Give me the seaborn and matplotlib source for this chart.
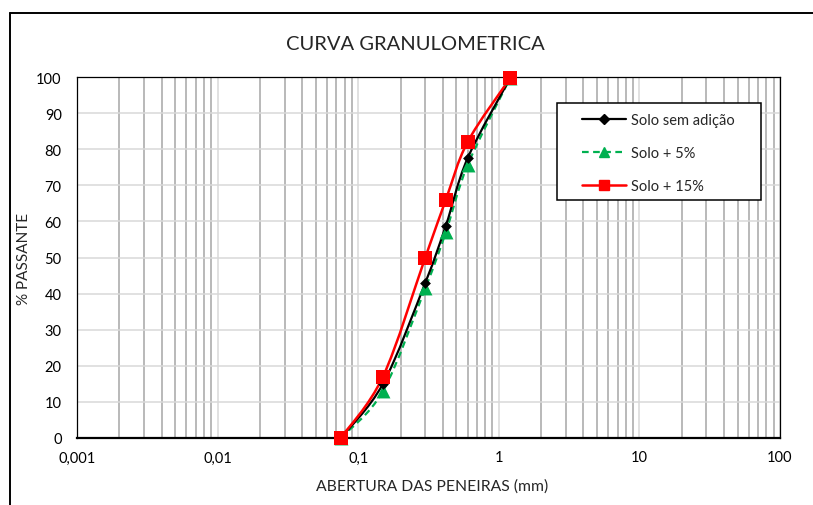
import numpy as np
import pandas as pd
import matplotlib
matplotlib.use("Agg")
import matplotlib.pyplot as plt
import seaborn as sns
from matplotlib.path import Path
from matplotlib.patches import PathPatch, Rectangle
from matplotlib.lines import Line2D
from matplotlib.ticker import FixedLocator, LogLocator, NullFormatter

# ---- data ----
sieve_mm = [0.075, 0.15, 0.30, 0.42, 0.60, 1.2]
solo_sem = [0.0, 15.0, 43.0, 58.8, 77.5, 99.6]
solo_5 = [0.0, 13.0, 41.5, 57.0, 75.6, 99.6]
solo_15 = [0.0, 17.0, 50.0, 66.0, 82.0, 99.6]
series_names = ["Solo sem adição", "Solo + 5%", "Solo + 15%"]
x_ticks = [0.001, 0.01, 0.1, 1, 10, 100]
x_tick_labels = ["0,001", "0,01", "0,1", "1", "10", "100"]
y_ticks = list(range(0, 101, 10))

title = "CURVA GRANULOMETRICA"
xlabel = "ABERTURA DAS PENEIRAS (mm)"
ylabel = "% PASSANTE"

# ---- styles ----
FONT = ["Lato", "DejaVu Sans"]
sns.set_theme(style="white")
plt.rcParams["font.family"] = FONT

colors = {"Solo sem adição": "#000000", "Solo + 5%": "#00B050", "Solo + 15%": "#FF0000"}
markers = {"Solo sem adição": "D", "Solo + 5%": "^", "Solo + 15%": "s"}
msizes = {"Solo sem adição": 5.5, "Solo + 5%": 10, "Solo + 15%": 10}
leg_msizes = {"Solo sem adição": 5.5, "Solo + 5%": 7.5, "Solo + 15%": 7.5}
lstyles = {"Solo sem adição": "-", "Solo + 5%": (0, (3, 2)), "Solo + 15%": "-"}
lwidths = {"Solo sem adição": 1.6, "Solo + 5%": 1.6, "Solo + 15%": 1.8}

df = pd.DataFrame({
    "x": sieve_mm * 3,
    "y": solo_sem + solo_5 + solo_15,
    "serie": [series_names[0]] * 6 + [series_names[1]] * 6 + [series_names[2]] * 6,
})

W, H = 813, 506
fig = plt.figure(figsize=(W / 100, H / 100), dpi=100)
L, R, T, B = 77, 780, 78, 439
ax = fig.add_axes([L / W, 1 - B / H, (R - L) / W, (B - T) / H])

ax.set_xscale("log")
ax.set_xlim(0.001, 100)
ax.set_ylim(0, 100)


def smooth_path(xs, ys):
    # Excel-like smoothed line: cubic Bezier segments (tension 1/6) in log-x space
    lx = np.log10(np.asarray(xs, float))
    yy = np.asarray(ys, float)
    n = len(lx)
    verts = [(xs[0], ys[0])]
    codes = [Path.MOVETO]
    for i in range(n - 1):
        p0 = max(i - 1, 0)
        p3 = min(i + 2, n - 1)
        c1x = lx[i] + (lx[i + 1] - lx[p0]) / 6
        c1y = yy[i] + (yy[i + 1] - yy[p0]) / 6
        c2x = lx[i + 1] - (lx[p3] - lx[i]) / 6
        c2y = yy[i + 1] - (yy[p3] - yy[i]) / 6
        verts += [(10 ** c1x, c1y), (10 ** c2x, c2y), (xs[i + 1], ys[i + 1])]
        codes += [Path.CURVE4] * 3
    return Path(verts, codes)


order = [series_names[1], series_names[0], series_names[2]]
for name in order:
    sub = df[df["serie"] == name]
    pp = PathPatch(smooth_path(list(sub["x"]), list(sub["y"])), fill=False,
                   edgecolor=colors[name], linewidth=lwidths[name],
                   linestyle=lstyles[name], zorder=3, clip_on=False)
    ax.add_patch(pp)

for name in order:
    sub = df[df["serie"] == name]
    sns.scatterplot(data=sub, x="x", y="y", ax=ax, marker=markers[name],
                    color=colors[name], s=msizes[name] ** 2, edgecolor=colors[name],
                    linewidth=0, zorder=4, clip_on=False, legend=False)

# grid
ax.xaxis.set_major_locator(FixedLocator(x_ticks))
ax.set_xticklabels(x_tick_labels)
ax.xaxis.set_minor_locator(LogLocator(base=10, subs=np.arange(2, 10), numticks=20))
ax.xaxis.set_minor_formatter(NullFormatter())
ax.set_yticks(y_ticks)
ax.grid(True, which="major", axis="both", color="#D9D9D9", linewidth=1.1, zorder=0)
ax.grid(True, which="minor", axis="x", color="#A6A6A6", linewidth=1.1, zorder=0)
ax.set_axisbelow(True)
ax.tick_params(axis="both", which="both", length=0, labelsize=10.5, colors="#000000")
ax.tick_params(axis="y", pad=11)
ax.tick_params(axis="x", pad=9)
for s in ["top", "right", "left"]:
    ax.spines[s].set_visible(True)
    ax.spines[s].set_color("#000000")
    ax.spines[s].set_linewidth(0.9)
ax.spines["bottom"].set_color("#000000")
ax.spines["bottom"].set_linewidth(1.6)

ax.set_xlabel(xlabel, fontsize=11.3)
ax.set_ylabel(ylabel, fontsize=11)
ax.set_title(title, fontsize=14.5, pad=0, x=(415 - L) / (R - L),
             y=1 + (T - 44) / (B - T), va="center")
ax.yaxis.label.set_va("center")
ax.xaxis.label.set_va("center")
ax.yaxis.set_label_coords((24 - L) / (R - L), 1 - (259 - T) / (B - T))
ax.xaxis.set_label_coords((432 - L) / (R - L), -(487 - B) / (B - T))

# legend frame + legend
lx0, ly0, lx1, ly1 = 557, 104, 761, 201
ax.add_patch(Rectangle(((lx0 - L) / (R - L), 1 - (ly1 - T) / (B - T)),
                       (lx1 - lx0) / (R - L), (ly1 - ly0) / (B - T),
                       transform=ax.transAxes, facecolor="white", edgecolor="black",
                       linewidth=1.1, zorder=5))
handles = [Line2D([], [], color=colors[n], marker=markers[n],
                  markersize=leg_msizes[n],
                  linestyle=lstyles[n], linewidth=lwidths[n]) for n in series_names]
leg = ax.legend(handles, series_names, loc="upper left",
                bbox_to_anchor=((584 - L - 2) / (R - L), 1 - (114 - T) / (B - T)),
                borderaxespad=0, borderpad=0, frameon=False, fontsize=10.5,
                handlelength=3.0, handletextpad=0.35, labelspacing=1.3)
leg.set_zorder(6)

# outer chart-area border (top and left)
fig.add_artist(Line2D([10 / W, 1], [1 - 14 / H, 1 - 14 / H], transform=fig.transFigure,
                      color="black", linewidth=1.4))
fig.add_artist(Line2D([10 / W, 10 / W], [0, 1 - 14 / H], transform=fig.transFigure,
                      color="black", linewidth=1.4))

fig.savefig("out.png", dpi=100)
